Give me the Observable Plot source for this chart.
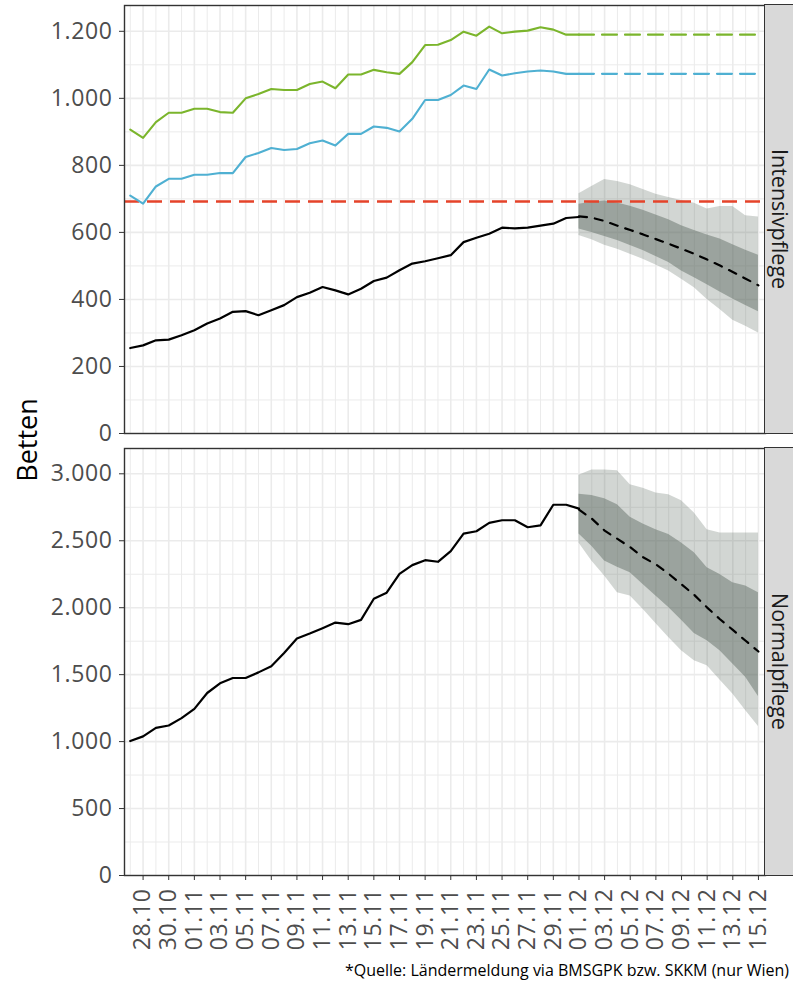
<!DOCTYPE html>
<html><head><meta charset="utf-8">
<script src="https://cdn.jsdelivr.net/npm/d3@7"></script>
<script src="https://cdn.jsdelivr.net/npm/@observablehq/plot@0.6"></script>
<style>
body{margin:0;background:#fff;width:793px;height:982px;position:relative;overflow:hidden;font-family:"Open Sans",sans-serif;}
.abs{position:absolute;}
.vert{position:absolute;white-space:nowrap;line-height:1;writing-mode:vertical-rl;text-align:center;display:flex;align-items:center;justify-content:center;}
.strip{position:absolute;box-sizing:border-box;background:#d9d9d9;border:1.4px solid #333;border-right:none;}
</style></head><body>
<div id="top" class="abs" style="left:0;top:0"></div>
<div id="bot" class="abs" style="left:0;top:443px"></div>
<div class="strip" style="left:764px;top:4px;width:29px;height:430px"></div>
<div class="strip" style="left:764px;top:447px;width:29px;height:429px"></div>
<div class="vert" style="left:769px;top:4px;width:22px;height:430px;font-size:21.5px;color:#1a1a1a">Intensivpflege</div>
<div class="vert" style="left:769px;top:447px;width:22px;height:429px;font-size:21.5px;color:#1a1a1a">Normalpflege</div>
<div class="abs" style="left:26px;top:440px;line-height:1;transform:translate(-50%,-50%) rotate(-90deg);font-size:27px;color:#000;white-space:nowrap">Betten</div>
<div class="abs" style="right:4px;top:961px;font-size:16px;line-height:1.2;color:#000;white-space:nowrap">*Quelle: Ländermeldung via BMSGPK bzw. SKKM (nur Wien)</div>
<script>
// ---------- data ----------
const actualDays = ["27.10","28.10","29.10","30.10","31.10","01.11","02.11","03.11","04.11","05.11","06.11","07.11","08.11","09.11","10.11","11.11","12.11","13.11","14.11","15.11","16.11","17.11","18.11","19.11","20.11","21.11","22.11","23.11","24.11","25.11","26.11","27.11","28.11","29.11","30.11","01.12"];
const forecastDays = ["01.12","02.12","03.12","04.12","05.12","06.12","07.12","08.12","09.12","10.12","11.12","12.12","13.12","14.12","15.12"];
const tickDays = ["28.10","30.10","01.11","03.11","05.11","07.11","09.11","11.11","13.11","15.11","17.11","19.11","21.11","23.11","25.11","27.11","29.11","01.12","03.12","05.12","07.12","09.12","11.12","13.12","15.12"];

// Intensivpflege
const icuActual = [255,263,278,280,293,308,328,343,363,365,353,368,383,407,420,437,427,415,432,455,465,487,507,514,523,532,571,584,596,614,612,614,620,626,643,646];
const icuGreen = [907,882,929,957,957,969,969,959,957,1000,1013,1028,1025,1025,1043,1050,1030,1071,1071,1085,1078,1073,1108,1159,1160,1174,1199,1187,1214,1194,1199,1202,1212,1205,1190,1190];
const icuBlue = [710,686,737,760,760,772,772,777,777,825,837,852,846,849,866,874,859,894,894,916,912,901,939,995,995,1010,1038,1028,1086,1068,1075,1080,1083,1080,1073,1073];
const icuGreenAhead = [1190,1190]; // 01.12 .. 15.12
const icuBlueAhead = [1073,1073];
const aheadDays = ["01.12","15.12"];
const icuThreshold = 692;
const icuMed     = [648,644,634,620,607,594,580,566,551,536,519,501,482,462,442];
const icuInnerHi = [684,690,694,688,678,666,652,638,620,606,592,580,563,547,532];
const icuInnerLo = [610,600,588,576,561,546,528,510,485,465,444,422,401,382,363];
const icuOuterHi = [715,737,758,752,742,728,714,704,695,687,670,677,677,650,646];
const icuOuterLo = [591,578,562,550,535,520,503,485,460,435,400,370,338,320,300];

// Normalpflege
const wardActual = [1004,1039,1103,1120,1175,1244,1363,1435,1475,1475,1517,1562,1661,1770,1807,1847,1889,1877,1909,2067,2112,2253,2318,2355,2343,2422,2553,2571,2633,2653,2653,2601,2615,2769,2769,2740];
const wardMed     = [2732,2665,2576,2514,2452,2377,2323,2253,2174,2095,2001,1914,1834,1753,1673];
const wardInnerHi = [2848,2838,2814,2769,2675,2625,2583,2546,2484,2410,2298,2248,2186,2162,2112];
const wardInnerLo = [2551,2459,2348,2303,2261,2174,2087,2001,1906,1807,1753,1678,1579,1480,1336];
const wardOuterHi = [2990,3029,3029,3022,2918,2893,2856,2843,2799,2707,2583,2558,2558,2558,2558];
const wardOuterLo = [2484,2348,2236,2112,2087,1988,1882,1777,1678,1604,1567,1460,1356,1232,1113];

const icuTicks = [0,200,400,600,800,1000,1200];
const icuMinor = [100,300,500,700,900,1100];
const wardTicks = [0,500,1000,1500,2000,2500,3000];
const wardMinor = [250,750,1250,1750,2250,2750];

// ---------- helpers ----------
const parseDay = s => { const [d, m] = s.split(".").map(Number); return new Date(Date.UTC(2021, m - 1, d)); };
const DAY = 864e5;
const xDomain = [new Date(+parseDay("27.10") - 0.45 * DAY), new Date(+parseDay("15.12") + 0.55 * DAY)];
const fmt = d3.formatLocale({decimal: ",", thousands: ".", grouping: [3], currency: ["", ""]}).format(",");
const allDays = Array.from(new Set([...actualDays, ...forecastDays]));
const minorDays = allDays.filter(d => !tickDays.includes(d));

const grey = "#5d6b62";
const GRID = "#ebebeb";

function bands(med, iHi, iLo, oHi, oLo) {
  return forecastDays.map((d, i) => ({date: parseDay(d), med: med[i], iHi: iHi[i], iLo: iLo[i], oHi: oHi[i], oLo: oLo[i]}));
}
function series(days, vals) { return days.map((d, i) => ({date: parseDay(d), v: vals[i]})); }

function gridMarks(ticks, minor) {
  return [
    Plot.ruleY(minor, {stroke: GRID, strokeWidth: 1}),
    Plot.ruleY(ticks, {stroke: GRID, strokeWidth: 1.6}),
    Plot.ruleX(minorDays, {x: d => parseDay(d), stroke: GRID, strokeWidth: 1}),
    Plot.ruleX(tickDays, {x: d => parseDay(d), stroke: GRID, strokeWidth: 1.6})
  ];
}
function bandMarks(fc) {
  return [
    Plot.areaY(fc, {x: "date", y1: "oLo", y2: "oHi", fill: grey, fillOpacity: 0.28}),
    Plot.areaY(fc, {x: "date", y1: "iLo", y2: "iHi", fill: grey, fillOpacity: 0.47})
  ];
}
const style = {fontFamily: "'Open Sans', sans-serif", fontSize: "23px", letterSpacing: "0.6px", background: "transparent", overflow: "visible"};

// ---------- top panel ----------
const icuFc = bands(icuMed, icuInnerHi, icuInnerLo, icuOuterHi, icuOuterLo);
const topPlot = Plot.plot({
  width: 793, height: 435,
  marginLeft: 124, marginRight: 28, marginTop: 5, marginBottom: 2,
  style,
  x: {type: "utc", domain: xDomain, axis: null},
  y: {domain: [0, 1277], axis: null, label: null},
  marks: [
    ...gridMarks(icuTicks, icuMinor),
    ...bandMarks(icuFc),
    Plot.ruleY([icuThreshold], {stroke: "#e5432a", strokeWidth: 2.5, strokeDasharray: "15,8"}),
    Plot.line(series(actualDays, icuGreen), {x: "date", y: "v", stroke: "#7bb52c", strokeWidth: 2.1}),
    Plot.line(series(aheadDays, icuGreenAhead), {x: "date", y: "v", stroke: "#7bb52c", strokeWidth: 2.1, strokeDasharray: "15,8"}),
    Plot.line(series(actualDays, icuBlue), {x: "date", y: "v", stroke: "#4fb0d2", strokeWidth: 2.1}),
    Plot.line(series(aheadDays, icuBlueAhead), {x: "date", y: "v", stroke: "#4fb0d2", strokeWidth: 2.1, strokeDasharray: "15,8"}),
    Plot.line(series(actualDays, icuActual), {x: "date", y: "v", stroke: "#000", strokeWidth: 2.2}),
    Plot.line(icuFc, {x: "date", y: "med", stroke: "#000", strokeWidth: 2.2, strokeDasharray: "8,8"}),
    Plot.frame({stroke: "#333", strokeWidth: 1.4}),
    Plot.axisY(icuTicks, {tickFormat: fmt, tickSize: 5, tickPadding: 7, stroke: "#333", fill: "#4d4d4d", label: null})
  ]
});
document.getElementById("top").append(topPlot);

// ---------- bottom panel ----------
const wardFc = bands(wardMed, wardInnerHi, wardInnerLo, wardOuterHi, wardOuterLo);
const botPlot = Plot.plot({
  width: 793, height: 532,
  marginLeft: 124, marginRight: 28, marginTop: 5, marginBottom: 100,
  style,
  x: {type: "utc", domain: xDomain, axis: null},
  y: {domain: [0, 3189], axis: null, label: null},
  marks: [
    ...gridMarks(wardTicks, wardMinor),
    ...bandMarks(wardFc),
    Plot.line(series(actualDays, wardActual), {x: "date", y: "v", stroke: "#000", strokeWidth: 2.2}),
    Plot.line(wardFc, {x: "date", y: "med", stroke: "#000", strokeWidth: 2.2, strokeDasharray: "8,8"}),
    Plot.frame({stroke: "#333", strokeWidth: 1.4}),
    Plot.axisY(wardTicks, {tickFormat: fmt, tickSize: 5, tickPadding: 7, stroke: "#333", fill: "#4d4d4d", label: null}),
    Plot.axisX(tickDays.map(parseDay), {tickFormat: d3.utcFormat("%d.%m"), tickRotate: -90, tickSize: 5, tickPadding: 8, stroke: "#333", fill: "#4d4d4d", label: null})
  ]
});
document.getElementById("bot").append(botPlot);
</script>
</body></html>
